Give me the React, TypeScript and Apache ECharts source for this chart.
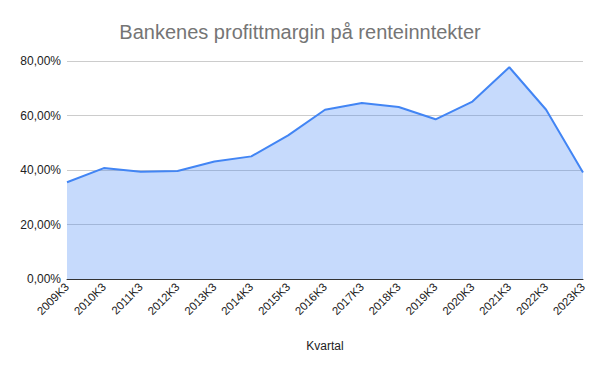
import React, { useEffect, useRef } from "react";
import * as echarts from "echarts";

const categories = ["2009K3","2010K3","2011K3","2012K3","2013K3","2014K3","2015K3","2016K3","2017K3","2018K3","2019K3","2020K3","2021K3","2022K3","2023K3"];
const margin = [35.5, 40.7, 39.4, 39.6, 43.1, 45.0, 52.7, 62.1, 64.6, 63.1, 58.6, 65.1, 77.7, 62.1, 39.1];
const yTicks = [0, 20, 40, 60, 80];

export default function App() {
  const ref = useRef<HTMLDivElement>(null);
  useEffect(() => {
    if (!ref.current) return;
    const chart = echarts.init(ref.current, null, { renderer: "svg" });
    chart.setOption({
      animation: false,
      backgroundColor: "#ffffff",
      title: {
        text: "Bankenes profittmargin på renteinntekter",
        left: "center",
        top: 17,
        textStyle: { fontFamily: "Liberation Sans, Arial", fontSize: 20, fontWeight: "normal", color: "#757575" },
      },
      grid: { left: 67, right: 17, top: 61, bottom: 92, containLabel: false },
      xAxis: {
        type: "category",
        data: categories,
        boundaryGap: false,
        name: "Kvartal",
        nameLocation: "middle",
        nameGap: 61,
        nameTextStyle: { fontFamily: "Liberation Sans, Arial", fontSize: 12, color: "#222" },
        axisLine: { lineStyle: { color: "#333", width: 1 } },
        axisTick: { show: false },
        axisLabel: { rotate: 45, interval: 0, margin: 6, fontFamily: "Liberation Sans, Arial", fontSize: 11.5, color: "#222" },
      },
      yAxis: {
        type: "value",
        min: yTicks[0],
        max: yTicks[yTicks.length - 1],
        interval: 20,
        axisLine: { show: false },
        axisTick: { show: false },
        splitLine: { lineStyle: { color: "#cccccc", width: 1 } },
        axisLabel: {
          margin: 6,
          fontFamily: "Liberation Sans, Arial",
          fontSize: 12,
          color: "#222",
          formatter: (v: number) => v.toFixed(2).replace(".", ",") + "%",
        },
      },
      series: [
        {
          type: "line",
          data: margin,
          symbol: "none",
          lineStyle: { color: "#4285F4", width: 2 },
          itemStyle: { color: "#4285F4" },
          areaStyle: { color: "#4285F4", opacity: 0.3 },
        },
      ],
    });
    return () => chart.dispose();
  }, []);
  return <div ref={ref} style={{ width: 600, height: 371, position: "absolute", left: 0, top: 0 }} />;
}
